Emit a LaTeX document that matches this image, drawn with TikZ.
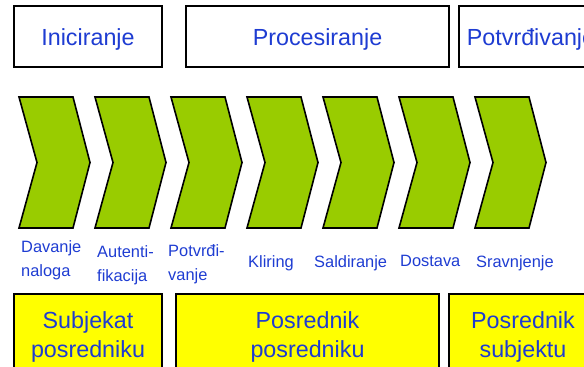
\documentclass[tikz,border=0pt]{standalone}
\usepackage{fontspec}
\setmainfont{Liberation Sans}
\usepackage{xcolor}
\definecolor{txtblue}{RGB}{30,60,210}
\definecolor{chevgreen}{RGB}{153,204,0}
\definecolor{boxyellow}{RGB}{255,255,0}

\begin{document}
\begin{tikzpicture}[x=1pt,y=-1pt,
    phase/.style={draw,line width=2pt,fill=white,minimum height=61pt,text height=18pt,text depth=0pt,inner sep=0pt,font=\fontsize{23.3}{29}\selectfont,text=txtblue},
    party/.style={draw,line width=2pt,fill=boxyellow,minimum height=86pt,align=center,inner sep=0pt,font=\fontsize{23.3}{29}\selectfont,text=txtblue},
    steplabel/.style={anchor=north west,inner sep=0pt,align=left,font=\fontsize{16.4}{24}\selectfont,text=txtblue}]
    \useasboundingbox (0,0) rectangle (584,367);
    \clip (0,0) rectangle (584,367);
    %Phases
    \node[phase,minimum width=148pt] (inic) at (88,36.5) {Iniciranje};
    \node[phase,minimum width=263pt] (proc) at (317.5,36.5) {Procesiranje};
    \node[phase,minimum width=144pt] (potv) at (531,36.5) {Potvrđivanje};
    %Chevrons
    \foreach \l in {19,95,171,247,323,399,475}
        \filldraw[fill=chevgreen,line width=1.6pt] (\l,97) -- ++(54,0) -- ++(17,65.5) -- ++(-17,65.5) -- ++(-54,0) -- ++(18,-65.5) -- cycle;
    %Steps
    \node[steplabel] (davanje) at (21,240) {Davanje\\naloga};
    \node[steplabel] (autent) at (97,245) {Autenti-\\fikacija};
    \node[steplabel] (potvrdi) at (168,244) {Potvrđi-\\vanje};
    \node[steplabel] (kliring) at (248,255) {Kliring};
    \node[steplabel] (saldir) at (314,255) {Saldiranje};
    \node[steplabel] (dostava) at (400,255) {Dostava};
    \node[steplabel] (sravnj) at (476,255) {Sravnjenje};
    %Parties
    \node[party,minimum width=148pt] (subjpos) at (88,337) {Subjekat\\posredniku};
    \node[party,minimum width=263pt] (pospos) at (307.5,337) {Posrednik\\posredniku};
    \node[party,minimum width=148pt] (possubj) at (523,337) {Posrednik\\subjektu};
\end{tikzpicture}
\end{document}
